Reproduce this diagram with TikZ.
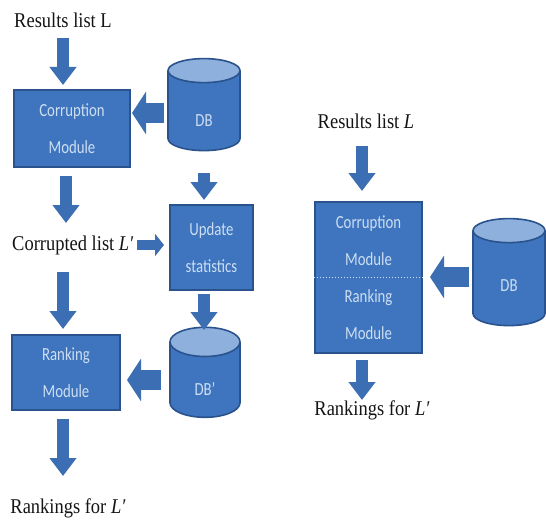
\documentclass[tikz,border=0pt]{standalone}
\usepackage{fontspec}
\setmainfont[FakeStretch=0.88]{Liberation Serif}
\newfontfamily\boxfont[FakeStretch=0.8]{Carlito}
\usetikzlibrary{arrows.meta,shapes.geometric}
\definecolor{boxfill}{RGB}{62,117,190}
\definecolor{boxline}{RGB}{42,82,140}
\definecolor{arrowblue}{RGB}{60,110,180}
\definecolor{cyltop}{RGB}{142,176,220}
\definecolor{boxtext}{RGB}{205,222,242}
\definecolor{labeltext}{RGB}{20,20,20}
\tikzset{
  modbox/.style={draw=boxline, line width=2pt, fill=boxfill, text=boxtext,
    font=\boxfont\fontsize{18.5}{37}\selectfont, align=center, inner sep=0pt},
  boxlbl/.style={text=boxtext, font=\boxfont\fontsize{18.5}{37}\selectfont, align=center, inner sep=0pt},
  dbcyl/.style={cylinder, shape border rotate=90, draw=boxline, line width=1.6pt,
    cylinder uses custom fill, cylinder body fill=boxfill, cylinder end fill=cyltop,
    text=boxtext, font=\boxfont\fontsize{18.5}{20}\selectfont, inner sep=0pt, outer sep=0pt},
  lbl/.style={text=labeltext, font=\fontsize{21}{24}\selectfont, inner sep=0pt},
  bigarrow/.style={draw=arrowblue, line width=12pt,
    -{Triangle[length=18pt,width=26pt]}},
  sidearrow/.style={draw=arrowblue, line width=20pt,
    -{Triangle[length=14pt,width=42pt]}},
  smallarrow/.style={draw=arrowblue, line width=10pt,
    -{Triangle[length=9pt,width=22pt]}},
}
\begin{document}
\begin{tikzpicture}[x=1pt,y=-1pt]
\useasboundingbox (0,0) rectangle (546,527);
% ---------- left diagram ----------
\node[lbl] (resL) at (63,20) {Results list L};
\node[modbox, minimum width=116pt, minimum height=77pt] (corr) at (72,128.5) {Corruption\\Module};
\node[dbcyl, minimum width=72pt, minimum height=92pt, aspect=1.4] (db) at (204,111) {\raisebox{-15pt}[0pt][0pt]{DB}};
\node[lbl, anchor=west] (corrL) at (12,245) {Corrupted list \textit{L′}};
\node[modbox, minimum width=83pt, minimum height=85pt] (upd) at (211.5,247.5) {Update\\statistics};
\node[dbcyl, minimum width=70pt, minimum height=90pt, aspect=1.4] (dbp) at (205,380) {\raisebox{-15pt}[0pt][0pt]{DB’}};
\node[modbox, minimum width=108pt, minimum height=75pt] (rank) at (66,372.5) {Ranking\\Module};
\node[lbl] (rankL) at (68,508) {Rankings for \textit{L′}};

\coordinate (a1s) at (63,38);  \coordinate (a1e) at (63,85);
\coordinate (a2s) at (66,176); \coordinate (a2e) at (66,223);
\coordinate (a3s) at (137,245); \coordinate (a3e) at (164,245);
\coordinate (a4s) at (164,113); \coordinate (a4e) at (132,113);
\coordinate (a5s) at (204,173); \coordinate (a5e) at (204,200);
\coordinate (a6s) at (204,294); \coordinate (a6e) at (204,330);
\coordinate (a7s) at (161,380); \coordinate (a7e) at (127,380);
\coordinate (a8s) at (63,272); \coordinate (a8e) at (63,329);
\coordinate (a9s) at (63,419); \coordinate (a9e) at (63,476);
\draw[bigarrow] (a1s) -- (a1e);
\draw[bigarrow] (a2s) -- (a2e);
\draw[smallarrow] (a3s) -- (a3e);
\draw[sidearrow] (a4s) -- (a4e);
\draw[bigarrow] (a5s) -- (a5e);
\draw[bigarrow] (a6s) -- (a6e);
\draw[sidearrow] (a7s) -- (a7e);
\draw[bigarrow] (a8s) -- (a8e);
\draw[bigarrow] (a9s) -- (a9e);

% ---------- right diagram ----------
\node[lbl] (resR) at (366,121) {Results list \textit{L}};
\node[modbox, minimum width=107pt, minimum height=151pt] (comb) at (368.5,277.5) {};
\node[boxlbl] (combtop) at (368.5,241) {Corruption\\Module};
\node[boxlbl] (combbot) at (368.5,315) {Ranking\\Module};
\draw[boxtext, dotted, line width=1pt] (comb.west) -- (comb.east);
\node[dbcyl, minimum width=72pt, minimum height=107pt, aspect=1.4] (dbr) at (509,278.5) {\raisebox{-12.5pt}[0pt][0pt]{DB}};
\node[lbl] (rankR) at (372,410) {Rankings for \textit{L′}};

\coordinate (b1s) at (362,146); \coordinate (b1e) at (362,191);
\coordinate (b2s) at (469,277); \coordinate (b2e) at (430,277);
\coordinate (b3s) at (362,360); \coordinate (b3e) at (362,400);
\draw[bigarrow] (b1s) -- (b1e);
\draw[sidearrow] (b2s) -- (b2e);
\draw[bigarrow] (b3s) -- (b3e);
\end{tikzpicture}
\end{document}
